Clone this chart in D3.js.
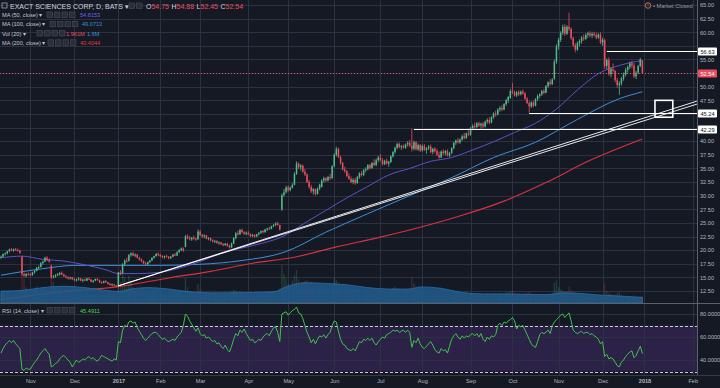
<!DOCTYPE html>
<html>
<head>
<meta charset="utf-8">
<script src="https://cdn.jsdelivr.net/npm/d3@7"></script>
<style>
  html, body { margin: 0; padding: 0; background: #151924; }
  svg { display: block; font-family: "Liberation Sans", Arial, sans-serif; }
</style>
</head>
<body>
<div id="chart"></div>
<script>

// ---- data ----

// daily candles [open, high, low, close], one per trading day, mid-Oct 2016 .. 29 Dec 2017
var candles = [
  // Oct 2016
  [18.6,19.0,18.4,18.8],[18.8,19.4,18.7,19.3],[19.3,19.6,19.0,19.4],[19.4,19.9,19.2,19.8],[19.8,20.3,19.6,20.1],
  [20.1,20.4,19.8,19.9],[19.9,20.3,19.7,20.2],[20.2,20.4,19.9,20.0],[20.0,20.3,19.7,19.9],[19.9,20.1,19.3,19.5],
  [18.8,18.9,15.3,15.6],[15.6,15.9,15.1,15.3],[15.3,15.8,15.0,15.6],[15.6,15.9,15.3,15.5],
  // Nov
  [15.5,15.8,15.2,15.4],[15.4,16.0,15.3,15.9],[15.9,16.3,15.7,16.2],[16.2,16.9,16.1,16.8],[16.8,17.2,16.5,16.9],
  [16.9,17.8,16.8,17.6],[17.6,18.1,17.3,17.9],[17.9,18.8,17.8,18.6],[18.6,18.9,18.0,18.2],[18.2,18.5,17.7,17.9],
  [17.2,17.3,14.8,15.0],[15.0,15.4,14.8,15.2],[15.2,15.6,14.9,15.4],[15.4,15.8,15.2,15.6],[15.6,16.0,15.3,15.8],
  [15.8,16.1,15.4,15.5],[15.5,15.7,15.1,15.2],[15.2,15.4,14.8,15.0],[15.0,15.2,14.6,14.8],[14.8,15.1,14.6,15.0],
  [15.0,15.1,14.5,14.7],
  // Dec
  [14.7,14.9,14.3,14.5],[14.5,14.8,14.2,14.6],[14.6,15.0,14.4,14.8],[14.8,14.9,14.3,14.4],[14.4,14.7,14.1,14.6],
  [14.6,14.8,14.3,14.4],[14.4,14.9,14.3,14.8],[14.8,15.0,14.5,14.6],[14.6,14.7,14.1,14.2],[14.2,14.5,14.0,14.4],
  [14.4,14.8,14.3,14.7],[14.7,14.9,14.4,14.5],[14.5,14.6,14.0,14.1],[14.1,14.3,13.8,14.0],[14.0,14.4,13.9,14.3],
  [14.3,14.5,14.0,14.1],[14.1,14.2,13.7,13.8],[13.8,14.0,13.5,13.6],[13.6,13.9,13.4,13.7],[13.7,13.8,13.3,13.5],
  [13.5,13.6,13.2,13.4],
  // Jan 2017
  [13.4,16.0,13.4,15.9],[15.9,16.3,15.4,15.6],[15.8,17.6,15.7,17.4],[17.4,18.3,17.1,18.1],[18.1,18.6,17.7,17.9],
  [18.0,19.3,17.9,19.1],[19.1,19.6,18.8,19.4],[19.4,19.7,18.9,19.0],[19.0,19.4,18.7,19.2],[19.2,19.3,18.5,18.6],
  [18.6,18.8,18.1,18.3],[18.3,18.5,17.8,18.0],[18.0,18.1,17.4,17.6],[17.6,17.8,17.2,17.4],[17.4,17.9,17.3,17.8],
  [17.8,18.2,17.6,18.1],[18.1,18.7,18.0,18.6],[18.6,19.0,18.4,18.9],[18.9,19.5,18.8,19.3],[19.3,19.6,18.9,19.1],
  // Feb
  [19.1,19.3,18.7,18.9],[18.9,19.1,18.5,18.7],[18.7,19.0,18.4,18.9],[18.9,19.2,18.6,18.8],[18.8,18.9,18.3,18.5],
  [18.5,18.9,18.4,18.8],[18.8,19.3,18.7,19.2],[19.2,19.5,18.9,19.0],[19.0,19.8,18.9,19.6],[19.6,20.2,19.5,20.0],
  [20.0,20.5,19.8,20.3],[20.3,20.5,19.7,19.9],[20.6,22.8,20.5,22.5],[22.5,22.9,22.0,22.2],[22.2,22.6,21.8,22.0],
  [22.0,22.4,21.7,22.3],[22.3,22.7,21.9,22.1],[22.1,22.3,21.7,21.9],[22.0,23.8,21.9,23.4],
  // Mar
  [23.4,23.7,22.6,22.8],[22.8,23.0,22.3,22.5],[22.5,22.9,22.2,22.7],[22.7,22.8,22.0,22.1],[22.1,22.4,21.8,22.2],
  [22.2,22.3,21.6,21.8],[21.8,22.0,21.4,21.6],[21.6,21.9,21.3,21.7],[21.7,21.8,21.2,21.3],[21.3,21.6,21.0,21.4],
  [21.4,21.5,20.9,21.1],[21.1,21.3,20.7,20.9],[20.9,21.3,20.8,21.2],[21.2,21.3,20.6,20.8],[20.8,21.0,20.3,20.5],
  [20.5,21.4,20.4,21.2],[21.2,22.4,21.1,22.2],[22.2,23.3,22.0,23.1],[23.1,23.6,22.7,22.9],[22.9,23.9,22.8,23.7],
  [23.7,24.0,23.1,23.3],[23.3,23.5,22.8,23.0],[23.0,23.4,22.7,23.2],
  // Apr
  [23.2,23.5,22.8,22.9],[22.9,23.1,22.4,22.6],[22.6,23.0,22.4,22.8],[22.8,22.9,22.3,22.5],[22.5,23.0,22.4,22.9],
  [22.9,23.3,22.7,23.2],[23.2,23.6,23.0,23.5],[23.5,23.7,23.1,23.3],[23.3,23.9,23.2,23.8],[23.8,24.1,23.5,24.0],
  [24.0,24.3,23.7,23.9],[23.9,24.5,23.8,24.4],[24.4,24.8,24.2,24.6],[24.6,25.1,24.4,24.9],[24.9,25.2,24.5,24.6],
  [24.6,24.7,23.6,23.8],[27.5,30.4,27.2,30.1],[30.1,31.2,29.8,30.6],[30.6,31.8,30.4,31.5],
  // May
  [31.5,31.9,30.7,31.0],[31.0,31.7,30.8,31.5],[31.5,32.3,31.3,32.0],[32.0,34.3,31.9,34.0],[34.0,36.3,33.8,35.9],
  [35.9,36.1,34.9,35.2],[35.2,35.8,34.6,35.5],[35.5,35.7,34.2,34.4],[34.4,34.9,33.6,33.9],[33.9,34.1,32.3,32.5],
  [32.5,32.9,31.3,31.6],[31.6,32.0,30.5,30.8],[30.8,31.4,30.2,31.2],[31.2,31.3,30.0,30.3],[30.3,31.5,30.2,31.3],
  [31.3,32.2,31.0,32.0],[31.6,33.0,31.5,32.8],[32.8,33.5,32.4,33.2],[33.2,33.4,32.5,32.8],[32.8,33.6,32.6,33.4],
  [33.4,34.0,32.9,33.2],[33.2,35.6,33.1,35.4],
  // Jun
  [35.4,37.8,35.2,37.5],[37.5,39.0,37.2,38.6],[38.6,38.8,36.9,37.1],[37.1,37.3,35.7,36.0],[36.0,36.2,34.6,34.8],
  [34.8,35.3,34.2,34.5],[34.5,34.7,33.4,33.6],[33.6,34.1,32.9,33.1],[33.1,33.5,32.3,32.5],[32.5,33.2,32.1,32.9],
  [32.9,33.3,32.0,32.3],[32.3,33.6,32.2,33.4],[33.4,34.3,33.1,34.1],[34.1,34.5,33.5,33.8],[33.8,34.9,33.6,34.7],
  [34.7,35.2,34.3,34.9],[34.9,35.8,34.6,35.6],[35.6,35.8,34.8,35.1],[35.1,36.2,34.9,36.0],[36.0,36.7,35.4,35.6],
  [35.6,36.8,35.4,36.5],[36.5,37.3,36.1,37.0],
  // Jul
  [37.0,37.6,36.3,36.5],[36.5,36.9,35.5,35.8],[35.8,36.6,35.6,36.4],[36.4,36.8,35.7,35.9],[35.9,36.4,35.3,36.2],
  [36.2,37.4,36.0,37.2],[37.2,38.2,37.0,38.0],[38.0,39.0,37.7,38.8],[38.8,39.7,38.5,39.5],[39.5,39.8,38.7,38.9],
  [38.9,39.3,38.4,39.1],[39.1,39.4,38.6,38.8],[38.8,39.6,38.6,39.4],[39.4,40.0,39.0,39.7],[39.7,40.2,38.9,39.2],
  [39.2,42.3,38.1,38.6],[38.6,40.1,38.3,39.8],[39.8,40.0,38.3,38.5],[38.5,39.6,38.2,39.3],[39.3,39.5,38.0,38.3],
  // Aug
  [38.3,39.4,38.1,39.1],[39.1,39.5,38.2,38.4],[38.4,38.9,37.7,38.7],[38.7,39.3,38.4,39.0],[39.0,39.4,37.8,38.0],
  [38.0,38.8,37.6,38.6],[38.6,38.9,37.9,38.2],[38.2,38.6,37.3,37.5],[37.5,38.1,36.8,37.0],[37.0,38.3,36.9,38.1],
  [38.1,38.5,37.5,37.8],[37.8,38.4,37.4,38.2],[38.2,38.5,37.2,37.4],[37.4,38.0,37.1,37.8],[37.8,38.9,37.7,38.7],
  [38.7,39.9,38.5,39.7],[39.7,40.3,39.3,40.1],[40.1,40.6,39.6,39.8],[39.8,40.5,39.5,40.3],[40.3,41.2,40.1,40.9],
  [40.9,41.5,40.3,40.6],[40.6,41.6,40.4,41.4],[41.4,42.0,40.9,41.2],
  // Sep
  [41.2,42.6,41.0,42.4],[42.4,43.1,42.0,42.8],[42.8,43.4,42.3,42.6],[42.6,43.5,42.4,43.3],[43.3,43.6,42.6,42.9],
  [42.9,43.4,42.3,43.2],[43.2,43.5,42.4,42.7],[42.7,43.8,42.5,43.6],[43.6,44.2,43.2,43.9],[43.9,44.4,43.1,43.4],
  [43.4,44.6,43.3,44.4],[44.4,45.3,44.1,45.1],[45.1,45.6,44.5,44.9],[44.9,46.0,44.7,45.8],[45.8,46.4,45.4,46.1],
  [46.1,46.6,45.5,45.8],[45.8,47.0,45.7,46.8],[46.8,47.8,46.5,47.5],[47.5,48.3,47.0,48.1],[47.9,49.6,47.8,49.2],
  // Oct
  [49.2,50.7,48.7,48.9],[48.9,49.3,48.2,48.4],[48.4,49.2,48.1,49.0],[49.0,49.4,48.3,48.6],[48.6,49.3,48.4,49.1],
  [49.1,49.5,48.5,48.8],[48.8,49.0,47.6,47.8],[47.8,48.1,46.8,47.0],[47.0,47.3,45.24,46.4],[46.4,47.3,46.1,47.1],
  [47.1,47.4,46.2,46.5],[46.5,47.9,46.4,47.7],[47.7,48.6,47.4,48.3],[48.3,48.8,47.9,48.6],[48.6,49.4,48.3,49.2],
  [49.2,49.6,48.6,48.9],[48.9,50.3,48.8,50.1],[50.1,51.0,49.8,50.8],[50.8,51.4,50.2,50.5],[50.5,51.6,50.3,51.3],
  [51.5,55.0,51.2,54.6],[54.6,57.8,54.2,57.4],
  // Nov
  [57.4,59.0,56.8,58.6],[58.6,60.2,58.2,59.9],[59.9,61.4,59.5,61.0],[61.0,61.5,59.3,59.7],[59.7,61.3,59.5,61.0],
  [61.0,63.6,60.2,60.6],[60.6,60.9,58.6,58.9],[58.9,59.2,57.3,57.6],[57.6,58.0,56.3,56.8],[56.8,58.3,56.6,58.0],
  [58.0,58.7,57.4,58.4],[58.4,59.3,57.9,59.0],[59.0,59.6,58.4,58.8],[58.8,59.8,58.6,59.5],[59.5,60.1,59.0,59.8],
  [59.8,60.2,59.1,59.4],[59.4,60.0,58.9,59.7],[59.7,60.1,59.2,59.5],[59.5,59.9,58.7,59.0],[59.0,59.8,58.8,59.6],
  [59.6,60.0,57.8,58.1],
  // Dec
  [58.1,59.0,57.5,58.6],[58.6,58.8,53.3,53.8],[53.8,55.2,53.2,54.9],[54.9,55.4,52.0,52.3],[52.3,53.6,51.7,53.2],
  [53.2,54.3,52.6,52.9],[52.9,53.1,50.8,51.2],[51.2,51.6,49.8,50.3],[50.3,51.0,48.5,50.6],[50.6,51.8,50.2,51.5],
  [51.5,52.6,51.1,52.2],[52.2,53.5,51.9,53.1],[53.1,53.9,52.6,53.6],[53.6,54.6,53.2,54.3],[54.3,54.8,53.4,53.9],
  [53.9,54.3,51.6,51.9],[51.9,52.9,51.4,52.6],[52.6,54.0,52.3,53.8],[53.8,55.3,53.6,55.0],[54.75,54.88,52.45,52.54]
];

// daily volume, millions
var volumes = [
  2.8,3.0,2.5,3.2,3.6,2.9,3.1,2.7,2.6,3.4,12.5,7.0,4.5,3.8,
  3.5,3.9,4.2,4.8,3.6,4.0,3.8,4.6,3.2,3.0,10.2,6.1,4.4,3.9,4.1,3.3,3.0,2.9,3.1,2.6,2.4,
  2.8,2.5,3.0,2.7,2.4,2.9,3.3,2.6,2.8,2.3,2.5,2.7,3.0,2.6,2.4,2.2,2.8,3.1,2.5,2.3,2.6,
  8.5,6.2,9.0,7.4,5.1,7.8,6.0,4.6,3.9,3.5,3.6,3.2,3.8,3.3,3.0,3.4,3.1,3.5,3.3,2.9,
  2.8,2.6,2.4,2.7,2.5,2.3,2.9,2.6,3.0,3.4,3.1,2.7,7.2,4.6,3.5,3.0,2.9,2.6,5.4,
  3.9,3.2,2.8,2.6,2.9,2.5,2.4,2.7,2.3,2.6,2.5,2.4,2.8,2.6,3.0,3.3,3.8,3.6,3.1,3.4,3.0,2.7,2.6,
  2.5,2.8,2.4,2.6,2.3,2.7,2.9,2.5,3.0,2.8,2.6,3.1,3.4,3.2,3.0,4.1,10.8,8.2,7.0,
  5.6,5.3,6.4,7.9,9.4,6.8,5.5,5.9,6.3,6.6,5.8,6.1,4.9,5.2,4.6,4.8,5.3,4.4,4.0,4.2,3.9,5.6,
  7.2,6.5,5.9,5.1,5.4,4.6,4.9,4.3,4.5,3.9,4.2,4.4,3.8,3.6,3.9,3.5,3.7,3.4,3.8,3.6,3.9,4.1,
  3.8,3.6,3.4,3.7,3.3,3.9,4.3,4.6,4.1,3.8,3.5,3.4,3.9,4.0,4.4,7.5,5.6,4.4,4.0,3.9,
  3.5,3.3,3.1,2.9,3.2,2.8,2.7,3.0,3.3,2.9,2.6,2.5,2.8,2.6,2.9,3.2,3.0,2.7,2.8,3.0,2.6,2.9,2.7,
  2.8,2.6,2.5,2.7,2.4,2.6,2.3,2.5,2.7,2.4,2.6,2.9,2.5,2.7,2.8,2.4,2.6,3.0,3.1,3.4,
  3.6,2.9,2.5,2.4,2.3,2.5,2.7,2.9,3.2,2.6,2.4,2.5,2.3,2.2,2.4,2.1,2.5,2.6,2.3,2.7,5.8,6.4,
  4.6,3.9,3.5,3.2,3.3,4.8,3.6,3.3,3.0,2.6,2.4,2.3,2.2,2.1,2.0,1.9,2.1,2.0,1.8,1.9,2.3,
  2.0,5.6,3.4,3.0,2.6,2.3,2.5,2.8,3.1,2.2,1.9,1.8,1.7,1.9,1.6,2.2,1.8,1.7,1.9,1.96
];

// RSI(14), one value per bar
var rsiValues = [
  46,50,53,55,57,55,57,54,52,50,32,31,33,32,
  32,35,38,40,43,46,48,50,47,45,34,35,37,38,41,43,44,42,40,38,34,
  37,40,38,39,41,40,42,43,41,42,40,39,41,44,43,42,41,40,39,41,40,
  56,55,66,70,69,73,74,72,73,68,65,62,59,57,59,61,63,64,64,62,
  60,58,59,57,56,57,58,57,60,62,64,70,80,78,74,71,68,65,68,
  63,61,62,59,60,58,56,57,54,55,52,50,53,49,47,52,58,63,61,66,64,67,63,
  60,57,58,55,56,58,57,60,62,63,61,65,68,69,64,56,80,81,82,
  79,81,83,84,86,81,80,76,70,64,60,55,58,54,58,61,60,62,59,62,64,70,
  74,73,65,58,54,53,50,49,48,50,48,52,56,55,58,57,59,57,59,55,53,56,
  58,60,59,62,63,64,66,65,66,64,65,66,64,66,64,51,57,55,59,54,
  51,50,52,54,56,53,49,47,46,50,48,49,46,52,58,61,63,60,58,61,59,61,60,
  62,63,61,63,60,63,58,56,60,58,61,60,62,70,72,70,73,72,74,75,
  77,74,67,70,69,70,66,62,58,54,52,51,56,62,64,63,64,66,63,70,73,75,
  77,79,80,77,79,81,74,66,64,63,64,65,63,64,64,62,63,61,60,58,54,
  56,43,45,41,42,41,38,35,34,38,40,43,45,47,48,42,44,48,52,45.49
];

// moving averages read at sample bars [bar, value]
var ma50 = [[0,18.6],[10,18.9],[20,18.3],[30,18.0],[40,17.3],[50,16.4],[56,15.7],[65,15.7],[75,15.9],
  [85,16.7],[95,17.9],[105,19.4],[115,20.4],[125,21.3],[135,22.6],[145,25.0],[155,27.3],[165,29.6],
  [175,31.7],[185,33.8],[195,35.0],[205,36.3],[215,37.0],[225,38.4],[235,39.9],[245,41.6],[255,43.3],
  [265,45.9],[275,49.4],[285,52.4],[295,53.9],[306,54.82]];
var ma100 = [[0,15.4],[20,16.6],[35,17.2],[56,17.2],[75,17.2],[95,17.4],[115,18.1],[135,19.6],[155,23.3],
  [175,26.7],[195,30.0],[215,33.3],[235,37.0],[255,39.8],[275,44.0],[295,47.8],[306,49.07]];
var ma200 = [[0,10.9],[30,12.4],[56,13.3],[80,14.9],[100,16.1],[120,17.6],[140,18.7],[160,20.6],
  [180,22.3],[200,24.2],[220,26.4],[240,29.0],[260,32.4],[280,36.3],[306,40.40]];
var volMA = [[0,3.4],[10,3.6],[20,4.4],[30,4.8],[40,4.4],[50,3.6],[56,3.3],[62,4.0],[70,4.4],[80,4.0],
  [90,3.2],[100,2.9],[110,2.9],[120,3.0],[130,3.2],[136,4.6],[145,5.8],[155,5.6],[165,5.2],[175,4.4],
  [185,4.0],[195,4.0],[200,4.6],[210,4.2],[220,3.0],[230,2.6],[240,2.6],[250,2.5],[260,2.4],[268,2.9],
  [275,2.8],[285,2.3],[295,2.0],[306,1.6]];

// drawings on the chart
var levelPrices = [56.63, 45.24, 42.29];
var levelStartBars = [289, 252, 197];
var trendStart = [56, 13.45];
var trendEnds = [[332, 47.35], [332, 46.8]];
var boxBars = [312, 320.5];
var boxPrices = [47.5, 44.4];

// axis ticks
var priceTicks = [12.5, 15, 17.5, 20, 22.5, 25, 27.5, 30, 32.5, 35, 37.5, 40, 42.5, 45, 47.5, 50, 52.5, 55, 57.5, 60, 62.5, 65];
var rsiTicks = [80, 60, 40];
var monthTickBars = [14, 35, 56, 76, 95, 118, 137, 159, 181, 201, 224, 244, 266, 287, 307, 330];
var monthTickLabels = ["Nov", "Dec", "2017", "Feb", "Mar", "Apr", "May", "Jun", "Jul", "Aug", "Sep", "Oct", "Nov", "Dec", "2018", "Feb"];

// ---- layout ----
var svgWidth = 720, svgHeight = 388;
var plotRight = 697;
var mainBottom = 303;
var rsiBottom = 375;

var up = "#53b987", down = "#eb4d5c";
var gridColor = "#2c3141";
var textColor = "#b2b5be";

var svg = d3.select("#chart").append("svg")
  .attr("width", svgWidth)
  .attr("height", svgHeight);

svg.append("rect").attr("width", svgWidth).attr("height", svgHeight).attr("fill", "#151924");

var defs = svg.append("defs");
defs.append("clipPath").attr("id", "mainClip")
  .append("rect").attr("x", 0).attr("y", 0).attr("width", plotRight).attr("height", mainBottom);
defs.append("clipPath").attr("id", "rsiClip")
  .append("rect").attr("x", 0).attr("y", mainBottom).attr("width", plotRight).attr("height", rsiBottom - mainBottom);

// scales
var x = d3.scaleLinear().domain([0, 330]).range([1, 692.7]);
var y = d3.scaleLinear().domain([12.5, 65]).range([291, 5]);
var yVol = d3.scaleLinear().domain([0, 10]).range([mainBottom, 268]);
var yRsi = d3.scaleLinear().domain([40, 80]).range([360, 314]);

// RSI band 70..30
svg.append("rect")
  .attr("x", 0).attr("width", plotRight)
  .attr("y", yRsi(70)).attr("height", yRsi(30) - yRsi(70))
  .attr("fill", "#8a3fd1").attr("opacity", 0.2);

// grid
var grid = svg.append("g").attr("stroke", gridColor).attr("stroke-width", 1);
grid.selectAll(".hgrid").data(priceTicks).enter().append("line")
  .attr("x1", 0).attr("x2", plotRight)
  .attr("y1", d => Math.round(y(d)) + 0.5).attr("y2", d => Math.round(y(d)) + 0.5);
grid.selectAll(".rgrid").data(rsiTicks).enter().append("line")
  .attr("x1", 0).attr("x2", plotRight)
  .attr("y1", d => Math.round(yRsi(d)) + 0.5).attr("y2", d => Math.round(yRsi(d)) + 0.5);
grid.selectAll(".vgrid").data(monthTickBars).enter().append("line")
  .attr("x1", d => Math.round(x(d)) + 0.5).attr("x2", d => Math.round(x(d)) + 0.5)
  .attr("y1", 0).attr("y2", rsiBottom);

var main = svg.append("g").attr("clip-path", "url(#mainClip)");

// moving averages
var maLine = d3.line().x(d => x(d[0])).y(d => y(d[1])).curve(d3.curveMonotoneX);
main.append("path").datum(ma200).attr("d", maLine).attr("fill", "none").attr("stroke", "#d8323f").attr("stroke-width", 1.1);

// volume bars
main.selectAll(".vol").data(volumes).enter().append("rect")
  .attr("x", (d, i) => x(i) - 0.7)
  .attr("width", 1.4)
  .attr("y", d => yVol(d))
  .attr("height", d => mainBottom - yVol(d))
  .attr("fill", (d, i) => candles[i][3] >= candles[i][0] ? up : down)
  .attr("opacity", 0.22);

// volume MA area
var volArea = d3.area().x(d => x(d[0])).y0(mainBottom).y1(d => yVol(d[1])).curve(d3.curveMonotoneX);
main.append("path").datum(volMA).attr("d", volArea)
  .attr("fill", "#1f5b8c").attr("opacity", 0.85)
  .attr("stroke", "#2f7cbf").attr("stroke-width", 0.8);

main.append("path").datum(ma100).attr("d", maLine).attr("fill", "none").attr("stroke", "#3b8fd9").attr("stroke-width", 1);
main.append("path").datum(ma50).attr("d", maLine).attr("fill", "none").attr("stroke", "#5a52c9").attr("stroke-width", 1);

// candles
var candle = main.selectAll(".candle").data(candles).enter().append("g");
candle.append("line")
  .attr("x1", (d, i) => x(i)).attr("x2", (d, i) => x(i))
  .attr("y1", d => y(d[1])).attr("y2", d => y(d[2]))
  .attr("stroke", d => d[3] >= d[0] ? up : down)
  .attr("stroke-width", 0.8);
candle.append("rect")
  .attr("x", (d, i) => x(i) - 0.75)
  .attr("width", 1.5)
  .attr("y", d => y(Math.max(d[0], d[3])))
  .attr("height", d => Math.max(0.8, Math.abs(y(d[0]) - y(d[3]))))
  .attr("fill", d => d[3] >= d[0] ? up : down);

// horizontal rays
main.selectAll(".level").data(levelPrices).enter().append("line")
  .attr("x1", (d, i) => x(levelStartBars[i])).attr("x2", plotRight)
  .attr("y1", d => Math.round(y(d)) + 0.5).attr("y2", d => Math.round(y(d)) + 0.5)
  .attr("stroke", "#ffffff").attr("stroke-width", 1);

// trend lines
main.selectAll(".trend").data(trendEnds).enter().append("line")
  .attr("x1", x(trendStart[0])).attr("y1", y(trendStart[1]))
  .attr("x2", d => x(d[0])).attr("y2", d => y(d[1]))
  .attr("stroke", "#ffffff").attr("stroke-width", 0.9);

// box
main.append("rect")
  .attr("x", x(boxBars[0])).attr("width", x(boxBars[1]) - x(boxBars[0]))
  .attr("y", y(boxPrices[0])).attr("height", y(boxPrices[1]) - y(boxPrices[0]))
  .attr("fill", "none").attr("stroke", "#ffffff").attr("stroke-width", 1.6);

// last price dotted line
var lastClose = candles[candles.length - 1][3];
main.append("line")
  .attr("x1", 0).attr("x2", plotRight)
  .attr("y1", Math.round(y(lastClose)) + 0.5).attr("y2", Math.round(y(lastClose)) + 0.5)
  .attr("stroke", down).attr("stroke-width", 1).attr("stroke-dasharray", "1,2");

// RSI pane
var rsi = svg.append("g").attr("clip-path", "url(#rsiClip)");
rsi.selectAll(".band").data([70, 30]).enter().append("line")
  .attr("x1", 0).attr("x2", plotRight)
  .attr("y1", d => Math.round(yRsi(d)) + 0.5).attr("y2", d => Math.round(yRsi(d)) + 0.5)
  .attr("stroke", "#c9cad3").attr("stroke-width", 1).attr("stroke-dasharray", "3,2");
rsi.append("path").datum(rsiValues)
  .attr("d", d3.line().x((d, i) => x(i)).y(d => yRsi(d)))
  .attr("fill", "none").attr("stroke", "#41c24f").attr("stroke-width", 1);

// pane borders
svg.append("line").attr("x1", 0).attr("x2", svgWidth).attr("y1", mainBottom + 0.5).attr("y2", mainBottom + 0.5)
  .attr("stroke", "#5d606b").attr("stroke-width", 1);
svg.append("line").attr("x1", 0).attr("x2", svgWidth).attr("y1", rsiBottom + 0.5).attr("y2", rsiBottom + 0.5)
  .attr("stroke", "#363a45").attr("stroke-width", 1);
svg.append("line").attr("x1", plotRight + 0.5).attr("x2", plotRight + 0.5).attr("y1", 0).attr("y2", rsiBottom)
  .attr("stroke", "#5d606b").attr("stroke-width", 1);

// price axis: labels hidden under the tags are skipped, as on the screen
var tagPrices = levelPrices.concat([lastClose]);
var shownTicks = priceTicks.filter(t => tagPrices.every(p => Math.abs(y(t) - y(p)) > 7));
var priceAxis = svg.append("g")
  .attr("transform", `translate(${plotRight}, 0)`)
  .call(d3.axisRight(y).tickValues(shownTicks).tickSize(0).tickPadding(3).tickFormat(d3.format(".2f")));
priceAxis.select(".domain").remove();
priceAxis.selectAll("text").attr("fill", textColor).attr("font-size", 5.6).attr("font-family", "Liberation Sans, Arial, sans-serif");

var rsiAxis = svg.append("g")
  .attr("transform", `translate(${plotRight}, 0)`)
  .call(d3.axisRight(yRsi).tickValues(rsiTicks).tickSize(0).tickPadding(3).tickFormat(d3.format(".4f")));
rsiAxis.select(".domain").remove();
rsiAxis.selectAll("text").attr("fill", textColor).attr("font-size", 5.6).attr("font-family", "Liberation Sans, Arial, sans-serif");

// price tags on the axis
function axisTag(price, fill, color) {
  var yy = Math.round(y(price)) + 0.5;
  svg.append("rect").attr("x", plotRight + 1).attr("y", yy - 4).attr("width", 19).attr("height", 8)
    .attr("fill", fill).attr("rx", 1);
  svg.append("text").attr("x", plotRight + 3.5).attr("y", yy + 2)
    .attr("font-size", 5.6).attr("fill", color).text(d3.format(".2f")(price));
}
levelPrices.forEach(p => axisTag(p, "#ffffff", "#131722"));
axisTag(lastClose, down, "#ffffff");

// time axis
var timeAxis = svg.append("g")
  .attr("transform", `translate(0, ${rsiBottom})`)
  .call(d3.axisBottom(x).tickValues(monthTickBars).tickSize(0).tickPadding(4)
    .tickFormat((d, i) => monthTickLabels[i]));
timeAxis.select(".domain").remove();
timeAxis.selectAll("text").attr("fill", textColor).attr("font-size", 5.6)
  .attr("font-family", "Liberation Sans, Arial, sans-serif")
  .attr("font-weight", (d, i) => /^\d+$/.test(monthTickLabels[i]) ? "bold" : "normal");

// legend
function buttons(x0, yc, n) {
  for (var k = 0; k < n; k++) {
    svg.append("rect").attr("x", x0 + k * 7.5).attr("y", yc - 3).attr("width", 5.5).attr("height", 5.5)
      .attr("fill", "#2a2e39").attr("stroke", "#4a4e5a").attr("stroke-width", 0.6);
  }
}
function legendRow(label, yc, bx, values) {
  svg.append("text").attr("x", 2).attr("y", yc + 2).attr("font-size", 5.6).attr("fill", "#c3c6ce").text(label + " \u25BE");
  buttons(bx, yc, 4);
  values.forEach(v => {
    svg.append("text").attr("x", v[0]).attr("y", yc + 2).attr("font-size", 5.6).attr("fill", v[2]).text(v[1]);
  });
}

// title row
svg.append("rect").attr("x", 2).attr("y", 3).attr("width", 5).attr("height", 5)
  .attr("fill", "none").attr("stroke", "#b2b5be").attr("stroke-width", 0.7);
svg.append("text").attr("x", 10).attr("y", 8.6).attr("font-size", 7).attr("fill", "#d1d4dc")
  .text("EXACT SCIENCES CORP, D, BATS \u25BE");
for (var k = 0; k < 2; k++) {
  svg.append("rect").attr("x", 129 + k * 7.5).attr("y", 3).attr("width", 5.5).attr("height", 5.5)
    .attr("fill", "#2a2e39").attr("stroke", "#4a4e5a").attr("stroke-width", 0.6);
}
var last = candles[candles.length - 1];
var ohlcText = svg.append("text").attr("x", 146).attr("y", 8.6).attr("font-size", 7);
["O", "H", "L", "C"].forEach((k, j) => {
  ohlcText.append("tspan").attr("fill", "#d1d4dc").attr("dx", j ? 2.5 : 0).text(k);
  ohlcText.append("tspan").attr("fill", down).text(d3.format(".2f")(last[j]));
});

legendRow("MA (50, close)", 15, 47, [[80, d3.format(".4f")(54.8153), "#6b63e0"]]);
legendRow("MA (100, close)", 24.3, 50, [[82, d3.format(".4f")(49.0713), "#3b8fd9"]]);
legendRow("Vol (20)", 33.5, 37, [[66, "1.961M", down], [87, "1.6M", "#3b8fd9"]]);
legendRow("MA (200, close)", 42.8, 48, [[80, d3.format(".4f")(40.4044), "#e0343f"]]);
legendRow("RSI (14, close)", 310.5, 47, [[80, d3.format(".4f")(45.4911), "#4fd35a"]]);

// market status
svg.append("circle").attr("cx", 648).attr("cy", 5.5).attr("r", 2.8)
  .attr("fill", "none").attr("stroke", "#d9894a").attr("stroke-width", 0.8);
svg.append("text").attr("x", 648).attr("y", 7.3).attr("font-size", 4.5).attr("text-anchor", "middle")
  .attr("fill", "#d9894a").text("!");
svg.append("text").attr("x", 653).attr("y", 7.5).attr("font-size", 5.6).attr("fill", "#9598a1")
  .text("\u2022 Market Closed");

</script>
</body>
</html>
